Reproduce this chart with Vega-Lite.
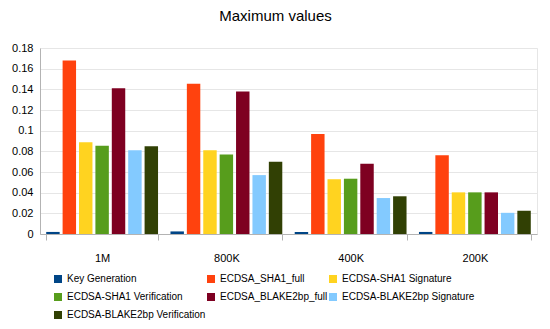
{
  "$schema": "https://vega.github.io/schema/vega-lite/v6.json",
  "width": 497,
  "height": 186,
  "autosize": {"type": "none"},
  "padding": {"left": 40, "top": 48, "right": 13, "bottom": 95},
  "background": "white",
  "config": {
    "font": "Liberation Sans",
    "view": {"stroke": "#e6e6e6"}
  },
  "title": {
    "text": "Maximum values",
    "fontSize": 15,
    "fontWeight": "normal",
    "font": "Liberation Sans",
    "color": "#000000",
    "offset": 18,
    "dx": -13
  },
  "data": {
    "values": [
      {"size": "1M", "series": "Key Generation", "value": 0.002},
      {"size": "1M", "series": "ECDSA_SHA1_full", "value": 0.168},
      {"size": "1M", "series": "ECDSA-SHA1 Signature", "value": 0.0887},
      {"size": "1M", "series": "ECDSA-SHA1 Verification", "value": 0.0855},
      {"size": "1M", "series": "ECDSA_BLAKE2bp_full", "value": 0.141},
      {"size": "1M", "series": "ECDSA-BLAKE2bp Signature", "value": 0.081},
      {"size": "1M", "series": "ECDSA-BLAKE2bp Verification", "value": 0.085},
      {"size": "800K", "series": "Key Generation", "value": 0.0025},
      {"size": "800K", "series": "ECDSA_SHA1_full", "value": 0.1455},
      {"size": "800K", "series": "ECDSA-SHA1 Signature", "value": 0.081},
      {"size": "800K", "series": "ECDSA-SHA1 Verification", "value": 0.077},
      {"size": "800K", "series": "ECDSA_BLAKE2bp_full", "value": 0.138},
      {"size": "800K", "series": "ECDSA-BLAKE2bp Signature", "value": 0.057},
      {"size": "800K", "series": "ECDSA-BLAKE2bp Verification", "value": 0.07},
      {"size": "400K", "series": "Key Generation", "value": 0.002},
      {"size": "400K", "series": "ECDSA_SHA1_full", "value": 0.0968},
      {"size": "400K", "series": "ECDSA-SHA1 Signature", "value": 0.053},
      {"size": "400K", "series": "ECDSA-SHA1 Verification", "value": 0.0535},
      {"size": "400K", "series": "ECDSA_BLAKE2bp_full", "value": 0.068},
      {"size": "400K", "series": "ECDSA-BLAKE2bp Signature", "value": 0.0348},
      {"size": "400K", "series": "ECDSA-BLAKE2bp Verification", "value": 0.0365},
      {"size": "200K", "series": "Key Generation", "value": 0.002},
      {"size": "200K", "series": "ECDSA_SHA1_full", "value": 0.0762},
      {"size": "200K", "series": "ECDSA-SHA1 Signature", "value": 0.0403},
      {"size": "200K", "series": "ECDSA-SHA1 Verification", "value": 0.0403},
      {"size": "200K", "series": "ECDSA_BLAKE2bp_full", "value": 0.0403},
      {"size": "200K", "series": "ECDSA-BLAKE2bp Signature", "value": 0.0205},
      {"size": "200K", "series": "ECDSA-BLAKE2bp Verification", "value": 0.0225}
    ]
  },
  "mark": {"type": "bar"},
  "encoding": {
    "x": {
      "field": "size",
      "type": "nominal",
      "sort": ["1M", "800K", "400K", "200K"],
      "scale": {"paddingInner": 0.1, "paddingOuter": 0.05},
      "axis": {
        "title": null,
        "labelAngle": 0,
        "labelFontSize": 11,
        "labelColor": "#000000",
        "labelPadding": 12,
        "domainColor": "#b3b3b3",
        "tickColor": "#b3b3b3",
        "tickBand": "extent",
        "tickSize": 6
      }
    },
    "xOffset": {
      "field": "series",
      "type": "nominal",
      "sort": ["Key Generation", "ECDSA_SHA1_full", "ECDSA-SHA1 Signature", "ECDSA-SHA1 Verification", "ECDSA_BLAKE2bp_full", "ECDSA-BLAKE2bp Signature", "ECDSA-BLAKE2bp Verification"],
      "scale": {"paddingInner": 0.18, "paddingOuter": 0}
    },
    "y": {
      "field": "value",
      "type": "quantitative",
      "scale": {"domain": [0, 0.18], "nice": false},
      "axis": {
        "title": null,
        "values": [0, 0.02, 0.04, 0.06, 0.08, 0.1, 0.12, 0.14, 0.16, 0.18],
        "format": "~g",
        "labelFontSize": 11,
        "labelColor": "#000000",
        "ticks": false,
        "labelPadding": 7,
        "domainColor": "#b3b3b3",
        "gridColor": "#e6e6e6"
      }
    },
    "color": {
      "field": "series",
      "type": "nominal",
      "sort": ["Key Generation", "ECDSA_SHA1_full", "ECDSA-SHA1 Signature", "ECDSA-SHA1 Verification", "ECDSA_BLAKE2bp_full", "ECDSA-BLAKE2bp Signature", "ECDSA-BLAKE2bp Verification"],
      "scale": {
        "domain": ["Key Generation", "ECDSA_SHA1_full", "ECDSA-SHA1 Signature", "ECDSA-SHA1 Verification", "ECDSA_BLAKE2bp_full", "ECDSA-BLAKE2bp Signature", "ECDSA-BLAKE2bp Verification"],
        "range": ["#004586", "#ff420e", "#ffd320", "#579d1c", "#7e0021", "#83caff", "#314004"]
      },
      "legend": {
        "title": null,
        "orient": "none",
        "legendX": 13,
        "legendY": 226,
        "direction": "horizontal",
        "columns": 3,
        "symbolType": "square",
        "symbolSize": 64,
        "symbolStrokeWidth": 0,
        "labelFontSize": 10,
        "labelColor": "#000000",
        "labelOffset": 4,
        "columnPadding": 0,
        "rowPadding": 8,
        "labelLimit": 300
      }
    }
  }
}
